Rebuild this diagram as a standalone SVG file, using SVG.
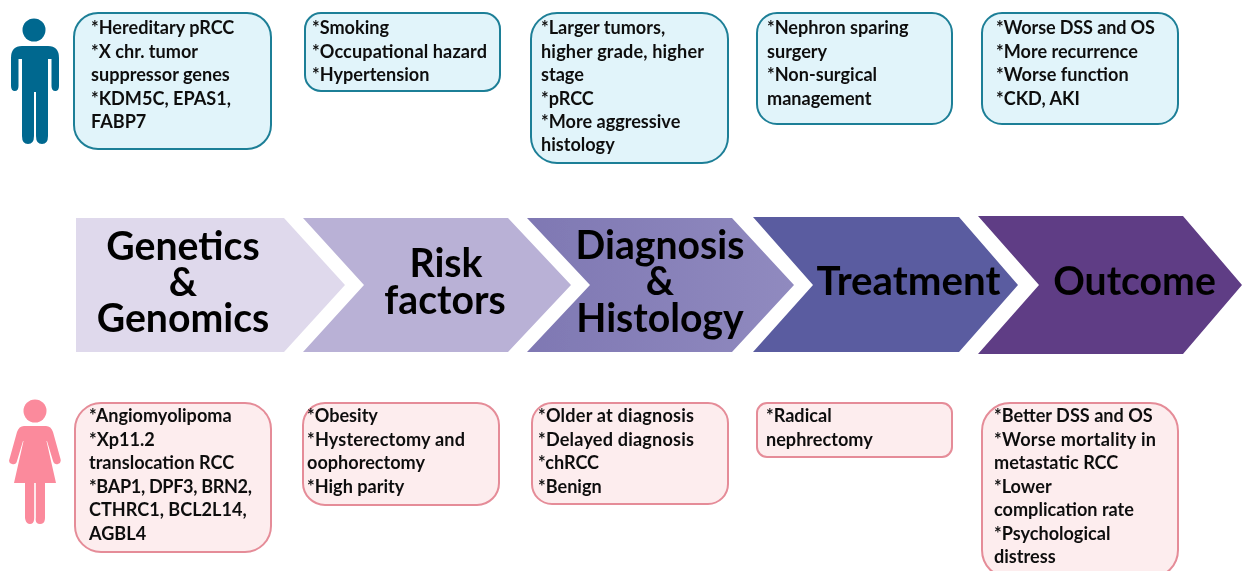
<svg xmlns="http://www.w3.org/2000/svg" width="1242" height="571" viewBox="0 0 1242 571">
<style>
text{font-family:"Lato","Liberation Sans",sans-serif;font-weight:700;fill:#111;transform:translateY(.7px)}
.t{font-size:18.100px}
.h{font-size:39.200px;text-anchor:middle;fill:#050505}
.m{fill:#e1f4fa;stroke:#1f7f97;stroke-width:2}
.f{fill:#fdedee;stroke:#e58c98;stroke-width:2}
</style>
<defs>
<filter id="soft" filterUnits="userSpaceOnUse" x="0" y="0" width="1242" height="571"><feGaussianBlur stdDeviation="0.45"/></filter>
<linearGradient id="g3" x1="0" x2="1" y1="0" y2="0"><stop offset="0" stop-color="#7f78b3"/><stop offset="1" stop-color="#908abf"/></linearGradient>
</defs>
<rect width="1242" height="571" fill="#fff"/>
<g filter="url(#soft)">
<g id="male-icon" fill="#03688f">
<circle cx="34" cy="30" r="11.500"/>
<path d="M22 46H48Q59 46 59 58V86Q59 91 55.300 91T51.500 86V59H48V136Q48 144 42 144T36 136V92H34V136Q34 144 28 144T22 136V59H18.500V86Q18.500 91 14.800 91T11 86V58Q11 46 22 46Z"/>
</g>
<g id="female-icon" fill="#fb8a9c">
<circle cx="35" cy="411" r="11.500"/>
<path d="M24 426H46Q51 426 53 432L60.500 459Q61.500 463 58 464T53 461L47 441L46.500 441L56 483H45V518Q45 524 40 524T35.800 518V483H34.200V518Q34.200 524 30 524T25 518V483H14L23.500 441L23 441L17 461Q16 465 12 464T9.500 459L17 432Q19 426 24 426Z"/>
</g>
<g id="m1"><rect class="m" x="74" y="13" width="197" height="136" rx="24"/>
<text class="t" x="91" y="33">*Hereditary pRCC</text><text class="t" x="91" y="57">*X chr. tumor</text><text class="t" x="91" y="80">suppressor genes</text><text class="t" x="91" y="104">*KDM5C, EPAS1,</text><text class="t" x="91" y="127">FABP7</text></g>
<g id="m2"><rect class="m" x="305" y="13" width="195" height="78" rx="16"/>
<text class="t" x="312" y="33">*Smoking</text><text class="t" x="312" y="57" textLength="175">*Occupational hazard</text><text class="t" x="312" y="80">*Hypertension</text></g>
<g id="m3"><rect class="m" x="531" y="13" width="197" height="150" rx="26"/>
<text class="t" x="541" y="33">*Larger tumors,</text><text class="t" x="541" y="57" textLength="163">higher grade, higher</text><text class="t" x="541" y="80">stage</text><text class="t" x="541" y="104">*pRCC</text><text class="t" x="541" y="127">*More aggressive</text><text class="t" x="541" y="150">histology</text></g>
<g id="m4"><rect class="m" x="757" y="13" width="195" height="111" rx="20"/>
<text class="t" x="767" y="33">*Nephron sparing</text><text class="t" x="767" y="57">surgery</text><text class="t" x="767" y="80">*Non-surgical</text><text class="t" x="767" y="104">management</text></g>
<g id="m5"><rect class="m" x="982" y="13" width="196" height="111" rx="20"/>
<text class="t" x="996" y="33" textLength="159">*Worse DSS and OS</text><text class="t" x="996" y="57">*More recurrence</text><text class="t" x="996" y="80">*Worse function</text><text class="t" x="996" y="104">*CKD, AKI</text></g>
<g id="stage-genetics"><path fill="#dfd9ec" d="M76 218H284L345 285L284 352H76Z"/>
<text class="h" x="183" y="259">Genetics</text><text class="h" x="183" y="295">&amp;</text><text class="h" x="183" y="331">Genomics</text></g>
<g id="stage-risk"><path fill="#b9b1d6" d="M303 218H508L571 285L508 352H303L364 285Z"/>
<text class="h" x="446" y="276">Risk</text><text class="h" x="445" y="313">factors</text></g>
<g id="stage-diagnosis"><path fill="url(#g3)" d="M527 218H732L794 285L732 352H527L590 285Z"/>
<text class="h" x="660" y="258">Diagnosis</text><text class="h" x="660" y="294">&amp;</text><text class="h" x="660" y="331">Histology</text></g>
<g id="stage-treatment"><path fill="#5a5ca0" d="M753 217H959L1018 285L959 352H753L813 285Z"/>
<text class="h" x="908.500" y="294" style="font-size:40.300px">Treatment</text></g>
<g id="stage-outcome"><path fill="#5f3d85" d="M978 216H1183L1242 285L1183 354H978L1039 285Z"/>
<text class="h" x="1134.500" y="294">Outcome</text></g>
<g id="f1"><rect class="f" x="75" y="403" width="196" height="149" rx="26"/>
<text class="t" x="89" y="421">*Angiomyolipoma</text><text class="t" x="89" y="445">*Xp11.2</text><text class="t" x="89" y="468">translocation RCC</text><text class="t" x="89" y="492" textLength="163">*BAP1, DPF3, BRN2,</text><text class="t" x="89" y="515">CTHRC1, BCL2L14,</text><text class="t" x="89" y="539">AGBL4</text></g>
<g id="f2"><rect class="f" x="303" y="403" width="196" height="102" rx="22"/>
<text class="t" x="307" y="421">*Obesity</text><text class="t" x="307" y="445" textLength="158">*Hysterectomy and</text><text class="t" x="307" y="468">oophorectomy</text><text class="t" x="307" y="492">*High parity</text></g>
<g id="f3"><rect class="f" x="532" y="403" width="196" height="101" rx="20"/>
<text class="t" x="538" y="421" textLength="156">*Older at diagnosis</text><text class="t" x="538" y="445" textLength="156">*Delayed diagnosis</text><text class="t" x="538" y="468">*chRCC</text><text class="t" x="538" y="492">*Benign</text></g>
<g id="f4"><rect class="f" x="757" y="403" width="195" height="54" rx="10"/>
<text class="t" x="766" y="421">*Radical</text><text class="t" x="766" y="445">nephrectomy</text></g>
<g id="f5"><rect class="f" x="982" y="403" width="196" height="175" rx="28"/>
<text class="t" x="994" y="421">*Better DSS and OS</text><text class="t" x="994" y="445" textLength="162">*Worse mortality in</text><text class="t" x="994" y="468">metastatic RCC</text><text class="t" x="994" y="492">*Lower</text><text class="t" x="994" y="515">complication rate</text><text class="t" x="994" y="539">*Psychological</text><text class="t" x="994" y="562">distress</text></g>
</g>
</svg>
